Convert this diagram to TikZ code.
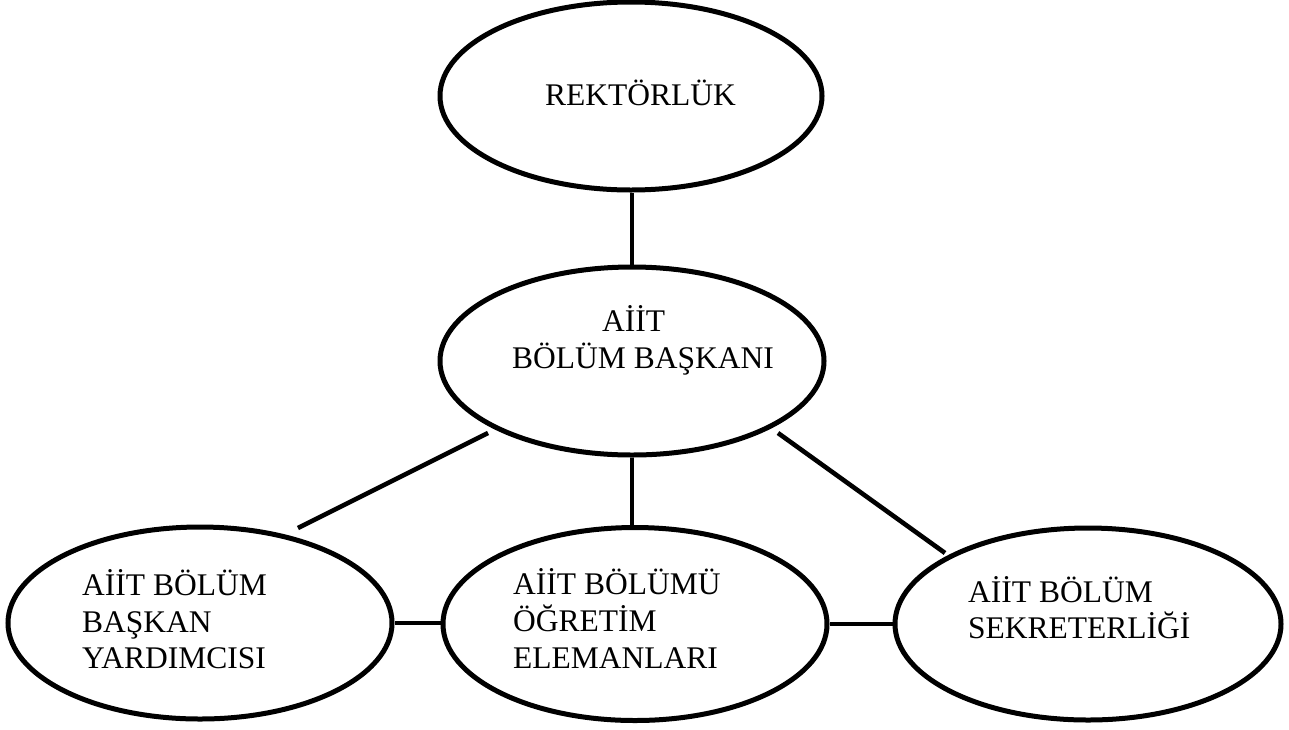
\documentclass[tikz,border=0pt]{standalone}
\usepackage{fontspec}
\setmainfont{Liberation Serif}
\usetikzlibrary{shapes.geometric,calc}
\begin{document}
\begin{tikzpicture}[x=1pt,y=-1pt,
  unit/.style={draw,ellipse,line width=5pt,inner sep=0pt},
  lbl/.style={anchor=base west,inner sep=0pt,font=\fontsize{31.5}{36}\selectfont},
  link/.style={line width=4.6pt}]
\useasboundingbox (0,0) rectangle (1289,729);

% units of the department
\node[unit,minimum width=382pt,minimum height=188pt] (rekt) at (631,96) {};
\node[unit,minimum width=384pt,minimum height=188pt] (bas) at (632,361) {};
\node[unit,minimum width=384pt,minimum height=192pt] (yrd) at (200,623) {};
\node[unit,minimum width=384pt,minimum height=193pt] (ogr) at (635,624) {};
\node[unit,minimum width=386pt,minimum height=192pt] (sek) at (1088,624) {};

% names written inside the units
\node[lbl] (rekt-t) at (545,105) {REKTÖRLÜK};
\node[lbl] (bas-t1) at (602,331) {AİİT};
\node[lbl] (bas-t2) at (512,368) {BÖLÜM BAŞKANI};
\node[lbl] (yrd-t1) at (82,595) {AİİT BÖLÜM};
\node[lbl] (yrd-t2) at (82,632) {BAŞKAN};
\node[lbl] (yrd-t3) at (82,668) {YARDIMCISI};
\node[lbl] (ogr-t1) at (513,594) {AİİT BÖLÜMÜ};
\node[lbl] (ogr-t2) at (513,631) {ÖĞRETİM};
\node[lbl] (ogr-t3) at (513,668) {ELEMANLARI};
\node[lbl] (sek-t1) at (968,602) {AİİT BÖLÜM};
\node[lbl] (sek-t2) at (968,638) {SEKRETERLİĞİ};

% ends of the slanted links, which stop short of the outlines
\coordinate (dl-a) at ($(bas.center)+(-144,72)$);
\coordinate (dl-b) at ($(yrd.center)+(98,-95)$);
\coordinate (dr-a) at ($(bas.center)+(146,72)$);
\coordinate (dr-b) at ($(sek.center)+(-143,-71)$);

% links
\draw[link] (rekt.south -| bas.north) -- (bas.north);
\draw[link] (bas.south) -- (bas.south |- ogr.north);
\draw[link] (dl-a) -- (dl-b);
\draw[link] (dr-a) -- (dr-b);
\draw[link] (yrd.east) -- (yrd.east -| ogr.west);
\draw[link] (ogr.east) -- (ogr.east -| sek.west);
\end{tikzpicture}
\end{document}
